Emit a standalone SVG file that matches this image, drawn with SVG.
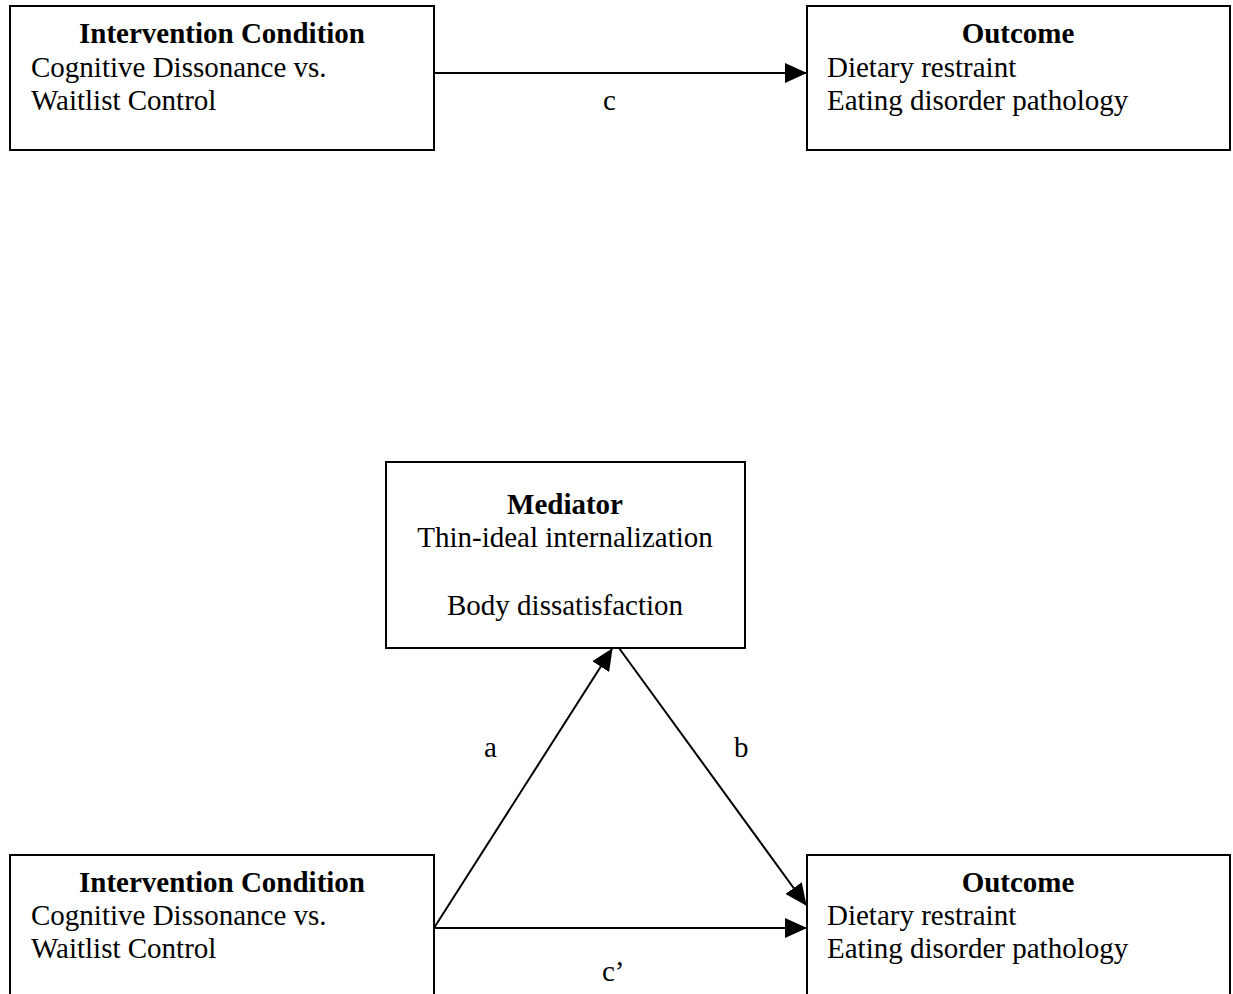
<svg xmlns="http://www.w3.org/2000/svg" width="1233" height="994" viewBox="0 0 1233 994">
<style>
.box{fill:#fff;stroke:#000;stroke-width:2}
text{font-family:"Liberation Serif","Times New Roman",serif;font-size:29px;fill:#000}
.h{font-weight:bold;text-anchor:middle}
.c{text-anchor:middle}
.ln{stroke:#000;stroke-width:2;fill:none}
</style>
<defs>
<marker id="ah" markerWidth="22" markerHeight="20" refX="21" refY="10" orient="auto" markerUnits="userSpaceOnUse" viewBox="0 0 22 20">
<path d="M0,0 L22,10 L0,20 Z" fill="#000"/>
</marker>
</defs>
<rect width="1233" height="994" fill="#fff"/>
<g id="top-intervention">
<rect class="box" x="10" y="6" width="424" height="144"/>
<text class="h" x="222" y="43">Intervention Condition</text>
<text x="31" y="77">Cognitive Dissonance vs.</text>
<text x="31" y="110">Waitlist Control</text>
</g>
<g id="top-outcome">
<rect class="box" x="807" y="6" width="423" height="144"/>
<text class="h" x="1018" y="43">Outcome</text>
<text x="827" y="77">Dietary restraint</text>
<text x="827" y="110">Eating disorder pathology</text>
</g>
<g id="mediator">
<rect class="box" x="386" y="462" width="359" height="186"/>
<text class="h" x="565" y="514">Mediator</text>
<text class="c" x="565" y="547">Thin-ideal internalization</text>
<text class="c" x="565" y="615">Body dissatisfaction</text>
</g>
<g id="bottom-intervention">
<rect class="box" x="10" y="855" width="424" height="150"/>
<text class="h" x="222" y="892">Intervention Condition</text>
<text x="31" y="925">Cognitive Dissonance vs.</text>
<text x="31" y="958">Waitlist Control</text>
</g>
<g id="bottom-outcome">
<rect class="box" x="807" y="855" width="423" height="150"/>
<text class="h" x="1018" y="892">Outcome</text>
<text x="827" y="925">Dietary restraint</text>
<text x="827" y="958">Eating disorder pathology</text>
</g>
<g id="connectors">
<line class="ln" x1="434" y1="73" x2="806" y2="73" marker-end="url(#ah)"/>
<line class="ln" x1="434" y1="928" x2="612" y2="649" marker-end="url(#ah)"/>
<line class="ln" x1="619" y1="648" x2="806" y2="905" marker-end="url(#ah)"/>
<line class="ln" x1="434" y1="928" x2="806" y2="928" marker-end="url(#ah)"/>
</g>
<g id="labels">
<text x="603" y="110">c</text>
<text x="484" y="757">a</text>
<text x="734" y="757">b</text>
<text x="602" y="981">c’</text>
</g>
</svg>
